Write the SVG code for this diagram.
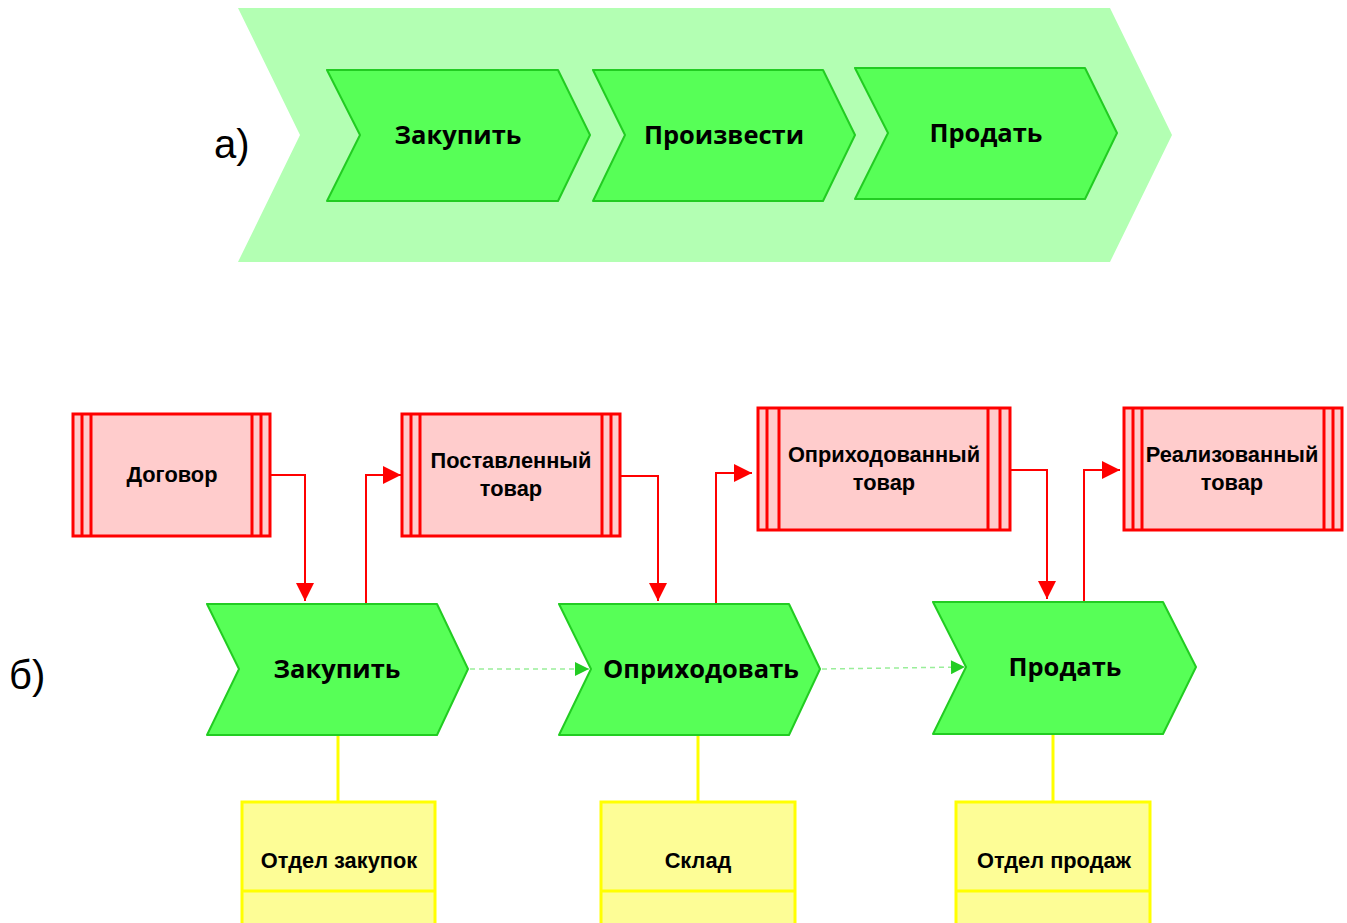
<svg xmlns="http://www.w3.org/2000/svg" width="1347" height="923" viewBox="0 0 1347 923">
<style>
.bg{fill:#b3ffb3;stroke:none}
.chev{fill:#57ff57;stroke:#22cc22;stroke-width:2;stroke-linejoin:round}
.clbl{font-family:"Open Sans","DejaVu Sans",sans-serif;font-weight:bold;font-size:25.5px;fill:#000;text-anchor:middle;dominant-baseline:central}
.doc{fill:#ffcccc;stroke:#ff0000;stroke-width:3}
.docl{fill:none;stroke:#ff0000;stroke-width:3}
.blbl{font-family:"Liberation Sans",Arial,sans-serif;font-weight:bold;font-size:21.8px;fill:#000;text-anchor:middle;dominant-baseline:central}
.org{fill:#fdfd96;stroke:#ffff00;stroke-width:3}
.red{fill:none;stroke:#ff0000;stroke-width:2}
.yel{fill:none;stroke:#ffff00;stroke-width:3}
.gdash{fill:none;stroke:#99ee99;stroke-width:1.5;stroke-dasharray:5 4}
.big{font-family:"Liberation Sans",Arial,sans-serif;font-size:40px;fill:#000}
</style>
<defs>
<marker id="ra" viewBox="0 0 10 10" refX="10" refY="5" markerWidth="26" markerHeight="18" markerUnits="userSpaceOnUse" orient="auto"><path d="M0,0 L10,5 L0,10 z" fill="#ff0000"/></marker>
<marker id="ga" viewBox="0 0 10 10" refX="10" refY="5" markerWidth="24" markerHeight="14" markerUnits="userSpaceOnUse" orient="auto"><path d="M0,0 L10,5 L0,10 z" fill="#22cc22"/></marker>
</defs>

<g id="part-a">
<text class="big" x="214" y="158">а)</text>
<polygon id="a-chain" class="bg" points="238,8 1110,8 1172,135 1110,262 238,262 300,135"/>
<g id="a-zakupit"><polygon class="chev" points="327,70 558,70 590,135 558,201 327,201 360,135"/><text class="clbl" x="458" y="134">Закупить</text></g>
<g id="a-proizvesti"><polygon class="chev" points="593,70 823,70 855,135 823,201 593,201 625,135"/><text class="clbl" x="724" y="134">Произвести</text></g>
<g id="a-prodat"><polygon class="chev" points="855,68 1085,68 1117,133 1085,199 855,199 888,133"/><text class="clbl" x="986" y="132">Продать</text></g>
</g>

<text class="big" x="9" y="689">б)</text>

<g id="connectors">
<polyline class="red" points="270,475 305,475 305,601" marker-end="url(#ra)"/>
<polyline class="red" points="366,604 366,475 401,475" marker-end="url(#ra)"/>
<polyline class="red" points="620,476 658,476 658,601" marker-end="url(#ra)"/>
<polyline class="red" points="716,604 716,473 752,473" marker-end="url(#ra)"/>
<polyline class="red" points="1010,470 1047,470 1047,599" marker-end="url(#ra)"/>
<polyline class="red" points="1084,602 1084,470 1120,470" marker-end="url(#ra)"/>
<line class="gdash" x1="470" y1="669" x2="589" y2="669" marker-end="url(#ga)"/>
<line class="gdash" x1="822" y1="669" x2="965" y2="667" marker-end="url(#ga)"/>
<line class="yel" x1="338" y1="736" x2="338" y2="802"/>
<line class="yel" x1="698" y1="736" x2="698" y2="802"/>
<line class="yel" x1="1053" y1="735" x2="1053" y2="802"/>
</g>

<g id="doc-dogovor">
<rect class="doc" x="73" y="414" width="197" height="122"/>
<path class="docl" d="M82,414V536M91,414V536M252,414V536M261,414V536"/>
<text class="blbl" x="172" y="474">Договор</text>
</g>
<g id="doc-postavlenny">
<rect class="doc" x="402" y="414" width="218" height="122"/>
<path class="docl" d="M411,414V536M420,414V536M602,414V536M611,414V536"/>
<text class="blbl" x="511" y="460">Поставленный</text>
<text class="blbl" x="511" y="488">товар</text>
</g>
<g id="doc-oprihodovanny">
<rect class="doc" x="758" y="408" width="252" height="122"/>
<path class="docl" d="M767,408V530M779,408V530M988,408V530M1000,408V530"/>
<text class="blbl" x="884" y="454">Оприходованный</text>
<text class="blbl" x="884" y="482">товар</text>
</g>
<g id="doc-realizovanny">
<rect class="doc" x="1124" y="408" width="218" height="122"/>
<path class="docl" d="M1133,408V530M1142,408V530M1324,408V530M1333,408V530"/>
<text class="blbl" x="1232" y="454">Реализованный</text>
<text class="blbl" x="1232" y="482">товар</text>
</g>

<g id="b-zakupit"><polygon class="chev" points="207,604 437,604 468,669 437,735 207,735 239,669"/><text class="clbl" x="337" y="668">Закупить</text></g>
<g id="b-oprihodovat"><polygon class="chev" points="559,604 789,604 820,669 789,735 559,735 591,669"/><text class="clbl" x="701" y="668">Оприходовать</text></g>
<g id="b-prodat"><polygon class="chev" points="933,602 1163,602 1196,667 1163,734 933,734 966,667"/><text class="clbl" x="1065" y="666">Продать</text></g>

<g id="org-zakupki">
<rect class="org" x="242" y="802" width="193" height="125"/>
<line class="yel" x1="242" y1="891" x2="435" y2="891"/>
<text class="blbl" x="339" y="860">Отдел закупок</text>
</g>
<g id="org-sklad">
<rect class="org" x="601" y="802" width="194" height="125"/>
<line class="yel" x1="601" y1="891" x2="795" y2="891"/>
<text class="blbl" x="698" y="860">Склад</text>
</g>
<g id="org-prodazhi">
<rect class="org" x="956" y="802" width="194" height="125"/>
<line class="yel" x1="956" y1="891" x2="1150" y2="891"/>
<text class="blbl" x="1054" y="860">Отдел продаж</text>
</g>
</svg>
